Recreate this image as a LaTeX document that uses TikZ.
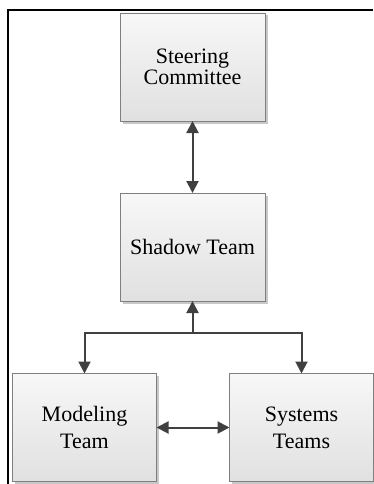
\documentclass[tikz,border=0pt]{standalone}
\usepackage{fontspec}
\setmainfont{Liberation Serif}
\usetikzlibrary{arrows.meta,shadows}
\definecolor{arrowgray}{HTML}{404040}
\definecolor{boxborder}{HTML}{7F7F7F}
\definecolor{shadowgray}{HTML}{C8C8C8}
\tikzset{
  teambox/.style={draw=boxborder, line width=0.9pt, inner sep=0pt, outer sep=0pt,
    minimum width=145pt, minimum height=108pt, align=center,
    top color=white!97!black, bottom color=white!88!black,
    drop shadow={shadow xshift=2.5pt, shadow yshift=-2.5pt, fill=shadowgray, opacity=1}},
  topfont/.style={font=\fontsize{22}{20.7}\selectfont},
  lowfont/.style={font=\fontsize{22}{26.7}\selectfont},
  arr/.style={draw=arrowgray, line width=2pt, -{Triangle[length=12pt,width=12pt]}},
  darr/.style={draw=arrowgray, line width=2pt, {Triangle[length=12pt,width=12pt]}-{Triangle[length=12pt,width=12pt]}},
  frameline/.style={line width=2.3pt, black}
}
\begin{document}
\begin{tikzpicture}[x=1pt,y=-1pt]
\useasboundingbox (0,0) rectangle (373,484);
\coordinate (fr) at (373,10);
\coordinate (fc) at (8,10);
\coordinate (fb) at (8,484);
\draw[frameline] (fr) -- (fc) -- (fb);
\node[teambox, topfont] (steer) at (192.5,67) {Steering\\Committee};
\node[teambox, topfont] (shadow) at (192.5,247) {Shadow Team};
\node[teambox, lowfont, minimum width=144pt] (model) at (84.5,427.5) {Modeling\\Team};
\node[teambox, lowfont, minimum width=144pt] (sys) at (301.5,427.5) {Systems\\Teams};
\draw[darr] (steer.south) -- (shadow.north);
\coordinate (j) at (192.5,333);
\draw[arr] (j) -- (shadow.south);
\draw[arr] (j) -| (model.north);
\draw[arr] (j) -| (sys.north);
\draw[darr] (model.east) -- (sys.west);
\end{tikzpicture}
\end{document}
